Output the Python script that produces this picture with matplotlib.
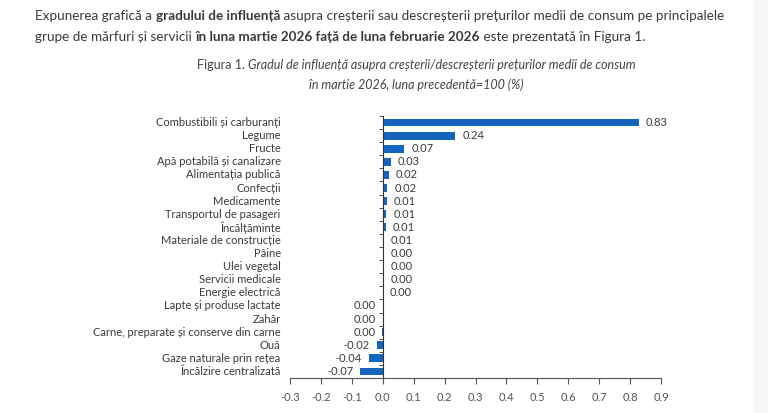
import numpy as np
import matplotlib.pyplot as plt
from matplotlib.patches import Rectangle

categorii = ['Combustibili și carburanți', 'Legume', 'Fructe', 'Apă potabilă și canalizare',
             'Alimentația publică', 'Confecții', 'Medicamente', 'Transportul de pasageri',
             'Încălțăminte', 'Materiale de construcție', 'Pâine', 'Ulei vegetal',
             'Servicii medicale', 'Energie electrică', 'Lapte și produse lactate', 'Zahăr',
             'Carne, preparate și conserve din carne', 'Ouă', 'Gaze naturale prin rețea',
             'Încălzire centralizată']
valori = [0.828, 0.235, 0.070, 0.027, 0.019, 0.015, 0.013, 0.012, 0.010, 0.004,
          0.002, 0.002, 0.002, 0.0005, 0.0, 0.0, -0.002, -0.02, -0.045, -0.074]
etichete = ['0.83', '0.24', '0.07', '0.03', '0.02', '0.02', '0.01', '0.01', '0.01', '0.01',
            '0.00', '0.00', '0.00', '0.00', '0.00', '0.00', '0.00', '-0.02', '-0.04', '-0.07']
# care etichete stau la stanga axei
stanga = [False] * 14 + [True] * 6
x_ticks = [-0.3, -0.2, -0.1, 0.0, 0.1, 0.2, 0.3, 0.4, 0.5, 0.6, 0.7, 0.8, 0.9]

FONT = ['Lato', 'DejaVu Sans']
plt.rcParams['font.family'] = FONT
txt = '#3a3a3a'
albastru = '#1565c0'

fig = plt.figure(figsize=(7.68, 4.13), dpi=100)
fig.patches.append(Rectangle((754 / 768, 0), 1, 1, transform=fig.transFigure,
                             color='#f6f6f6', zorder=-1))

# ---- paragraful de sus, cu bucati bold
def rand_text(bucati, x0, y0, size):
    fig.canvas.draw()
    r = fig.canvas.get_renderer()
    x = x0
    for s, w in bucati:
        t = fig.text(x / 768, 1 - y0 / 413, s, fontsize=size, fontweight=w, color=txt,
                     va='center', ha='left')
        bb = t.get_window_extent(renderer=r)
        x += bb.width

rand_text([('Expunerea grafică a ', 'normal'), ('gradului de influență', 'bold'),
           (' asupra creșterii sau descreșterii prețurilor medii de consum pe principalele', 'normal')],
          35, 16, 9.7)
rand_text([('grupe de mărfuri și servicii ', 'normal'),
           ('în luna martie 2026 față de luna februarie 2026', 'bold'),
           (' este prezentată în Figura 1.', 'normal')], 35, 37, 9.7)

# ---- titlul figurii
fig.canvas.draw()
r = fig.canvas.get_renderer()
t1 = fig.text(0, 0, 'Figura 1. ', fontsize=9, color='#444444')
t2 = fig.text(0, 0, 'Gradul de influență asupra creșterii/descreșterii prețurilor medii de consum',
              fontsize=9, style='italic', color='#444444')
w1 = t1.get_window_extent(renderer=r).width
w2 = t2.get_window_extent(renderer=r).width
xs = 416 - (w1 + w2) / 2
t1.set_position((xs / 768, 1 - 65 / 413))
t2.set_position(((xs + w1) / 768, 1 - 65 / 413))
t1.set_va('center')
t2.set_va('center')
fig.text(416 / 768, 1 - 85 / 413, 'în martie 2026, luna precedentă=100 (%)', fontsize=9,
         style='italic', color='#444444', ha='center', va='center')

# ---- graficul
ax = fig.add_axes([290 / 768, 1 - 378 / 413, 371 / 768, 262 / 413])
y = np.arange(len(categorii))
ax.barh(y, valori, height=0.6, color=albastru)
ax.set_xlim(-0.3, 0.9)
ax.set_ylim(len(categorii) - 0.5, -0.5)

for i in range(len(categorii)):
    ax.text(-0.025, y[i], categorii[i], transform=ax.get_yaxis_transform(),
            ha='right', va='center', fontsize=8, color=txt)
    if stanga[i]:
        xp = min(valori[i], 0) - 0.022
        ax.text(xp, y[i], etichete[i], ha='right', va='center', fontsize=8, color=txt)
    else:
        ax.text(max(valori[i], 0) + 0.022, y[i], etichete[i], ha='left', va='center',
                fontsize=8, color=txt)

for s in ['top', 'right']:
    ax.spines[s].set_visible(False)
ax.spines['left'].set_position(('data', 0))
ax.spines['left'].set_color('#333333')
ax.spines['bottom'].set_color('#555555')
ax.set_yticks([])
ax.set_yticks(np.arange(len(categorii) + 1) - 0.5, minor=True)
ax.tick_params(axis='y', which='minor', length=3, direction='out', color='#333333')
ax.set_xticks(x_ticks)
ax.set_xticklabels([f'{v:.1f}' for v in x_ticks])
ax.tick_params(axis='x', length=4, direction='out', color='#555555', labelsize=8,
               labelcolor='#555555', pad=6)

fig.savefig('out.png', dpi=100)
